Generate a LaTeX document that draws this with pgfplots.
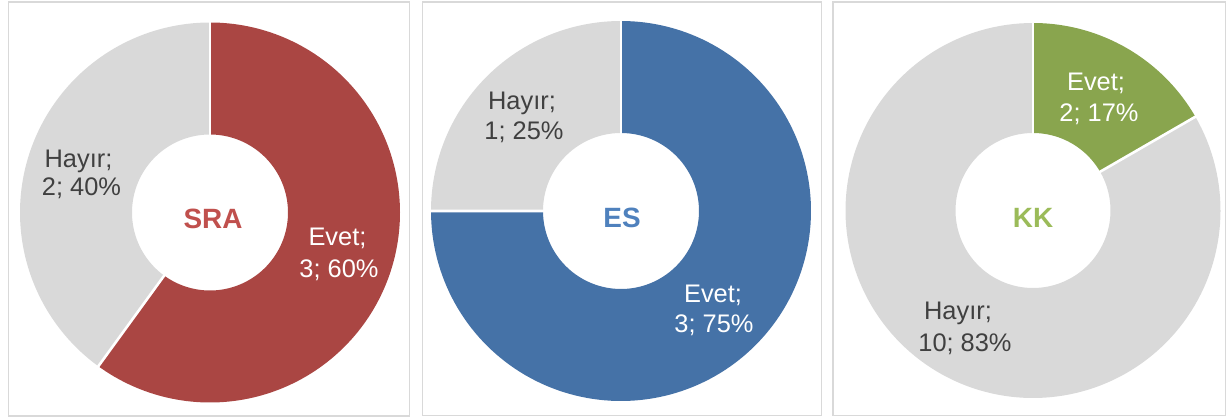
\documentclass[border=0pt]{standalone}
\usepackage{pgfplots}
\pgfplotsset{compat=1.18}
\usepackage{fontspec}
\setmainfont{Liberation Sans}
\definecolor{sraC}{HTML}{AA4643}
\definecolor{esC}{HTML}{4572A7}
\definecolor{kkC}{HTML}{89A54E}
\definecolor{sraT}{HTML}{C0504D}
\definecolor{esT}{HTML}{4F81BD}
\definecolor{kkT}{HTML}{9BBB59}
\definecolor{grayC}{HTML}{D9D9D9}
\definecolor{frameC}{HTML}{D9D9D9}
\definecolor{labC}{HTML}{404040}
% data: Evet / Hayir counts
\newcommand\sraEvet{3}\newcommand\sraHayir{2}
\newcommand\esEvet{3}\newcommand\esHayir{1}
\newcommand\kkEvet{2}\newcommand\kkHayir{10}
\pgfplotsset{panel/.style={x=1bp,y=1bp,scale only axis,anchor=south west,
  xtick=\empty,ytick=\empty,axis line style={draw=frameC,line width=1.3bp},clip=false}}
\tikzset{lab/.style={font=\fontsize{25.5}{30}\selectfont,anchor=base,inner sep=0pt},
  cen/.style={font=\fontsize{28}{30}\selectfont\bfseries,anchor=base,inner sep=0pt}}
\begin{document}
\begin{tikzpicture}
\path (0,0) rectangle (1228bp,417bp);
% ---------- SRA ----------
\begin{axis}[panel,at={(8.5bp,1bp)},xmin=-201.5,xmax=199.5,ymin=-203.5,ymax=210.5]
\addplot[draw=grayC,line width=112bp,domain=90-360:90-360*\sraEvet/(\sraEvet+\sraHayir),samples=150]
  ({134*cos(x)},{134*sin(x)});
\addplot[draw=sraC,line width=112bp,domain=90-360*\sraEvet/(\sraEvet+\sraHayir):90,samples=150]
  ({134*cos(x)},{134*sin(x)});
\addplot[draw=white,line width=2.6bp,domain=76:192,samples=2] ({x*cos(90)},{x*sin(90)});
\addplot[draw=white,line width=2.6bp,domain=76:192,samples=2]
  ({x*cos(90-360*\sraEvet/(\sraEvet+\sraHayir))},{x*sin(90-360*\sraEvet/(\sraEvet+\sraHayir))});
\node[lab,text=labC] at (axis cs:-131.5,45.5) {Hayır;};
\node[lab,text=labC] at (axis cs:-128.5,17.5) {2; 40\%};
\node[lab,text=white] at (axis cs:127.5,-32.5) {Evet;};
\node[lab,text=white] at (axis cs:129,-64.5) {3; 60\%};
\node[cen,text=sraT] at (axis cs:3,-15.5) {SRA};
\end{axis}
% ---------- ES ----------
\begin{axis}[panel,at={(422.5bp,1.3bp)},xmin=-198.5,xmax=200.7,ymin=-204.7,ymax=209]
\addplot[draw=grayC,line width=112bp,domain=90-360:90-360*\esEvet/(\esEvet+\esHayir),samples=150]
  ({134*cos(x)},{134*sin(x)});
\addplot[draw=esC,line width=112bp,domain=90-360*\esEvet/(\esEvet+\esHayir):90,samples=150]
  ({134*cos(x)},{134*sin(x)});
\addplot[draw=white,line width=2.6bp,domain=76:192,samples=2] ({x*cos(90)},{x*sin(90)});
\addplot[draw=white,line width=2.6bp,domain=76:192,samples=2]
  ({x*cos(90-360*\esEvet/(\esEvet+\esHayir))},{x*sin(90-360*\esEvet/(\esEvet+\esHayir))});
\node[lab,text=labC] at (axis cs:-99,102) {Hayır;};
\node[lab,text=labC] at (axis cs:-97,72) {1; 25\%};
\node[lab,text=white] at (axis cs:92,-91) {Evet;};
\node[lab,text=white] at (axis cs:93,-121) {3; 75\%};
\node[cen,text=esT] at (axis cs:1,-16) {ES};
\end{axis}
% ---------- KK ----------
\begin{axis}[panel,at={(833bp,1.3bp)},xmin=-200,xmax=192.5,ymin=-205.2,ymax=208.5]
\addplot[draw=grayC,line width=110bp,domain=90-360:90-360*\kkEvet/(\kkEvet+\kkHayir),samples=150]
  ({132.5*cos(x)},{132.5*sin(x)});
\addplot[draw=kkC,line width=110bp,domain=90-360*\kkEvet/(\kkEvet+\kkHayir):90,samples=60]
  ({132.5*cos(x)},{132.5*sin(x)});
\addplot[draw=white,line width=2.6bp,domain=76:189,samples=2] ({x*cos(90)},{x*sin(90)});
\addplot[draw=white,line width=2.6bp,domain=76:189,samples=2]
  ({x*cos(90-360*\kkEvet/(\kkEvet+\kkHayir))},{x*sin(90-360*\kkEvet/(\kkEvet+\kkHayir))});
\node[lab,text=white] at (axis cs:63,120.5) {Evet;};
\node[lab,text=white] at (axis cs:66,89.5) {2; 17\%};
\node[lab,text=labC] at (axis cs:-75,-108.5) {Hayır;};
\node[lab,text=labC] at (axis cs:-68,-140.5) {10; 83\%};
\node[cen,text=kkT] at (axis cs:0,-16.5) {KK};
\end{axis}
\end{tikzpicture}
\end{document}
